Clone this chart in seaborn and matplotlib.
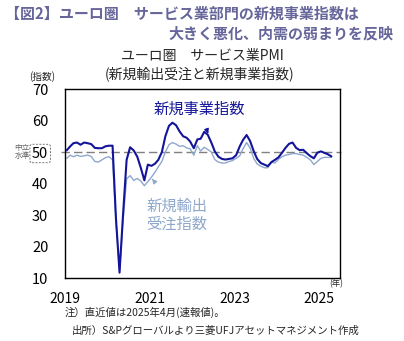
import numpy as np
import pandas as pd
import matplotlib
matplotlib.use("Agg")
import matplotlib.pyplot as plt
import seaborn as sns

# ---- data (monthly, Jan 2019 - Apr 2025) ----
new_business = [
    50.5, 51.8, 52.8, 53.0, 52.3, 53.0, 52.8, 52.5, 51.3, 51.2, 51.2, 51.8,   # 2019
    52.0, 52.0, 29.0, 11.7, 30.0, 47.5, 51.5, 50.5, 48.5, 45.0, 41.0, 46.0,   # 2020
    45.6, 46.3, 47.5, 50.0, 55.0, 58.3, 59.3, 58.5, 56.5, 55.0, 54.5, 53.3,   # 2021
    51.2, 54.0, 54.2, 56.4, 55.5, 53.0, 50.2, 48.5, 47.8, 47.6, 47.8, 48.0,   # 2022
    49.0, 51.8, 53.8, 55.4, 53.5, 50.3, 47.8, 46.5, 46.0, 45.5, 46.8, 47.5,   # 2023
    48.3, 49.8, 51.3, 52.6, 53.0, 51.3, 50.6, 50.7, 49.6, 48.7, 48.0, 49.8,   # 2024
    50.2, 49.7, 49.3, 48.6,                                                   # 2025
]
new_export_orders = [
    48.0, 49.0, 48.5, 49.0, 48.6, 48.8, 49.0, 48.6, 47.0, 46.8, 47.5, 48.2,   # 2019
    48.5, 47.5, 28.0, 12.5, 28.0, 41.5, 42.5, 41.0, 41.6, 40.8, 39.3, 40.6,   # 2020
    42.0, 43.6, 45.3, 47.0, 50.0, 52.3, 53.0, 52.5, 51.8, 52.0, 51.3, 51.0,   # 2021
    49.0, 52.0, 50.3, 51.5, 50.8, 50.0, 47.6, 46.8, 46.5, 46.5, 47.0, 47.3,   # 2022
    48.0, 48.8, 51.0, 53.0, 51.3, 48.0, 46.2, 45.5, 45.0, 45.0, 46.8, 46.5,   # 2023
    47.7, 48.5, 49.0, 49.2, 49.5, 49.5, 49.2, 49.0, 48.3, 47.5, 46.0, 47.0,   # 2024
    48.0, 48.3, 48.3, 48.3,                                                   # 2025
]
y_ticks = [10, 20, 30, 40, 50, 60, 70]
x_tick_years = [2019, 2020, 2021, 2022, 2023, 2024, 2025]
x_label_years = [2019, 2021, 2023, 2025]

dates = pd.date_range("2019-01-01", periods=len(new_business), freq="MS") + pd.Timedelta(days=14)
df = pd.DataFrame({"date": dates, "新規事業指数": new_business, "新規輸出受注指数": new_export_orders})
long = df.melt(id_vars="date", var_name="series", value_name="value")

sns.set_theme(style="white")
plt.rcParams["font.family"] = ["Noto Sans CJK JP", "DejaVu Sans"]

DARK = "#14149a"
LIGHT = "#8ea8cc"
TITLE_C = "#66669a"

fig = plt.figure(figsize=(4.04, 3.41), dpi=100)
ax = fig.add_axes([65 / 404, 1 - 278 / 341, (340 - 65) / 404, (278 - 89) / 341])

sns.lineplot(data=long, x="date", y="value", hue="series",
             palette={"新規事業指数": DARK, "新規輸出受注指数": LIGHT},
             hue_order=["新規輸出受注指数", "新規事業指数"],
             ax=ax, legend=False, linewidth=1.0)
for ln in ax.get_lines():
    if matplotlib.colors.to_hex(ln.get_color()) == matplotlib.colors.to_hex(DARK):
        ln.set_linewidth(1.5)
        ln.set_zorder(3)

ax.set_xlim(pd.Timestamp("2019-01-01"), pd.Timestamp("2025-06-28"))
ax.set_ylim(10, 70)
ax.set_yticks(y_ticks)
ax.set_yticklabels([str(v) for v in y_ticks], fontsize=10.5)
ax.set_xticks([pd.Timestamp(f"{y}-01-01") for y in x_tick_years])
ax.set_xticklabels([str(y) if y in x_label_years else "" for y in x_tick_years], fontsize=10)
ax.tick_params(axis="both", direction="in", length=4, width=0.8, colors="black", labelcolor="black")
ax.tick_params(axis="y", pad=12)
ax.tick_params(axis="x", pad=10)
ax.set_xlabel("")
ax.set_ylabel("")
for s in ax.spines.values():
    s.set_color("black")
    s.set_linewidth(1.0)

# 50 neutral line
ax.plot([pd.Timestamp("2018-12-01"), pd.Timestamp("2025-07-10")], [50, 50],
        color="#808080", lw=1.0, ls=(0, (6, 3)), clip_on=False, zorder=1)

for lbl in ax.get_yticklabels():
    if lbl.get_text() == "50":
        lbl.set_bbox(dict(boxstyle="round,pad=0.15", fc="white", ec="#777777", ls=(0, (2, 1.5)), lw=0.7))

fig.text(22 / 404, 1 - 152 / 341, "中立\n水準", fontsize=5.5, color="#666666",
         ha="center", va="center", linespacing=1.0)
fig.text(42 / 404, 1 - 77 / 341, "(指数)", fontsize=7, ha="center", va="center")
fig.text(336 / 404, 1 - 284 / 341, "(年)", fontsize=6, ha="center", va="center")

# titles
fig.text(5 / 404, 1 - 14 / 341, "【図2】ユーロ圏　サービス業部門の新規事業指数は",
         fontsize=10.8, fontweight="bold", color=TITLE_C, ha="left", va="center")
fig.text(393 / 404, 1 - 33 / 341, "大きく悪化、内需の弱まりを反映",
         fontsize=10.8, fontweight="bold", color=TITLE_C, ha="right", va="center")
fig.text(202 / 404, 1 - 56 / 341, "ユーロ圏　サービス業PMI", fontsize=10, ha="center", va="center")
fig.text(200 / 404, 1 - 74 / 341, "(新規輸出受注と新規事業指数)", fontsize=10, ha="center", va="center")

# in-plot labels with arrows
ax.annotate("新規事業指数", xy=(pd.Timestamp("2022-05-20"), 55.8),
            xytext=(pd.Timestamp("2022-03-01"), 63.5),
            fontsize=11, color=DARK, ha="center", va="center",
            arrowprops=dict(arrowstyle="-|>", color=DARK, lw=0.8, mutation_scale=7,
                            shrinkA=6, shrinkB=0))
ax.annotate("新規輸出\n受注指数", xy=(pd.Timestamp("2021-01-20"), 41.5),
            xytext=(pd.Timestamp("2021-08-20"), 30.0),
            fontsize=11, color=LIGHT, ha="center", va="center", linespacing=1.1,
            arrowprops=dict(arrowstyle="-|>", color=LIGHT, lw=0.8, mutation_scale=7,
                            shrinkA=14, shrinkB=0, relpos=(0.35, 1.0)))

# notes
fig.text(65 / 404, 1 - 312 / 341, "注）直近値は2025年4月(速報値)。", fontsize=7.5, ha="left", va="center")
fig.text(72 / 404, 1 - 331 / 341, "出所）S&Pグローバルより三菱UFJアセットマネジメント作成",
         fontsize=7.5, ha="left", va="center")

fig.savefig("out.png", dpi=100)
